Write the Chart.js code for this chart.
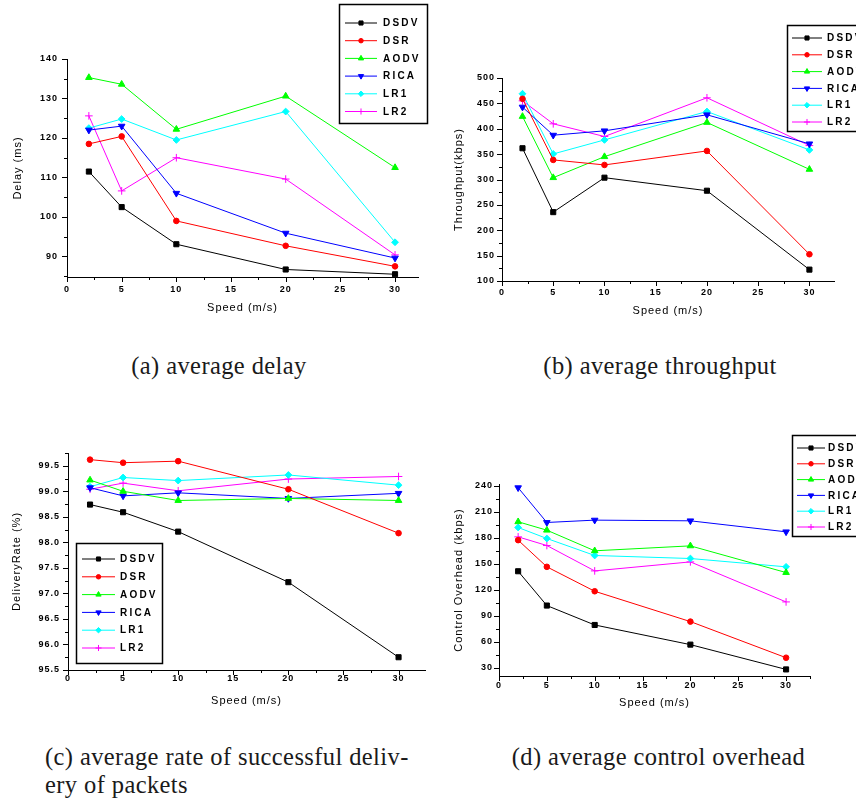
<!DOCTYPE html>
<html>
<head>
<meta charset="utf-8">
<script src="https://cdn.jsdelivr.net/npm/chart.js@4.4.0/dist/chart.umd.min.js"></script>
<style>
  body { margin: 0; background: #fff; }
  #page { position: relative; width: 856px; height: 800px; overflow: hidden; background: #fff; }
  canvas { position: absolute; }
  .cap { position: absolute; font-family: "Liberation Serif", serif; font-size: 24.5px; letter-spacing: 0.4px;
         color: #1a1a1a; white-space: nowrap; line-height: 28px; }
</style>
</head>
<body>
<div id="page">
  <canvas id="delayChart" width="430" height="335" style="left:0;top:0"></canvas>
  <canvas id="tputChart" width="426" height="335" style="left:430px;top:0"></canvas>
  <canvas id="rateChart" width="430" height="300" style="left:0;top:420px"></canvas>
  <canvas id="ohChart" width="426" height="300" style="left:430px;top:420px"></canvas>
  <div class="cap" style="left:0;width:438px;text-align:center;top:352px">(a) average delay</div>
  <div class="cap" style="left:430px;width:460px;text-align:center;top:352px">(b) average throughput</div>
  <div class="cap" style="left:45px;top:743px">(c) average rate of successful deliv-<br>ery of packets</div>
  <div class="cap" style="left:430px;width:457px;text-align:center;top:743px">(d) average control overhead</div>
</div>
<script>
const speeds = [2, 5, 10, 20, 30];
const protocols = ["DSDV", "DSR", "AODV", "RICA", "LR1", "LR2"];

// one row per protocol, columns follow speeds
const delayMs = [
  [111.5, 102.5, 93.1, 86.7, 85.5],
  [118.5, 120.4, 99.0, 92.7, 87.5],
  [135.3, 133.6, 122.2, 130.6, 112.5],
  [122.0, 123.0, 106.0, 95.9, 89.6],
  [122.5, 124.8, 119.5, 126.7, 93.6],
  [125.6, 106.6, 115.0, 109.6, 90.4]
];
const throughputKbps = [
  [361.6, 235.7, 303.6, 277.9, 122.4],
  [459.0, 338.6, 328.7, 356.3, 152.7],
  [424.2, 303.6, 345.0, 412.4, 320.0],
  [442.7, 387.3, 395.9, 427.5, 370.2],
  [469.0, 350.4, 378.0, 434.0, 358.3],
  [455.0, 409.7, 384.7, 461.0, 366.9]
];
const deliveryRate = [
  [98.74, 98.59, 98.21, 97.22, 95.75],
  [99.62, 99.56, 99.59, 99.04, 98.18],
  [99.22, 99.00, 98.82, 98.86, 98.82],
  [99.07, 98.91, 98.97, 98.86, 98.96],
  [99.09, 99.27, 99.21, 99.32, 99.12],
  [99.04, 99.16, 99.01, 99.24, 99.29]
];
const overheadKbps = [
  [141.3, 101.7, 79.3, 56.6, 28.0],
  [177.2, 146.4, 118.2, 83.2, 41.5],
  [198.4, 188.7, 164.9, 170.6, 139.8],
  [237.7, 197.6, 200.3, 199.5, 186.8],
  [191.8, 179.1, 159.5, 156.0, 146.4],
  [181.0, 171.0, 141.7, 152.1, 105.9]
];

const colors = ["#000000", "#ff0000", "#00ff00", "#0000ff", "#00ffff", "#ff00ff"];
const markers = ["rect", "circle", "triangle", "triangle", "rectRot", "cross"];
const markerRot = [0, 0, 0, 180, 0, 0];
const markerSize = [3.6, 2.8, 3.8, 3.8, 3.4, 3.8];

function isMajor(v, step) {
  return Math.abs(v / step - Math.round(v / step)) < 1e-6;
}

function minorTicks(step) {
  return (s) => {
    const half = step / 2;
    const t = [];
    for (let v = Math.ceil(s.min / half - 1e-9) * half; v <= s.max + 1e-9; v += half) {
      t.push({ value: +v.toFixed(4) });
    }
    s.ticks = t;
  };
}

const originLook = {
  id: "originLook",
  beforeDraw(chart) {
    chart.ctx.letterSpacing = "1px";
  },
  afterDraw(chart, args, o) {
    const ctx = chart.ctx;
    const a = chart.chartArea;
    const xs = chart.scales.x, ys = chart.scales.y;
    ctx.save();
    ctx.strokeStyle = "#000";
    ctx.lineWidth = 1;
    ctx.beginPath();
    xs.ticks.forEach(t => {
      const px = Math.round(xs.getPixelForValue(t.value)) + 0.5;
      ctx.moveTo(px, a.bottom);
      ctx.lineTo(px, a.bottom + (isMajor(t.value, o.xStep) ? 5 : 3));
    });
    ys.ticks.forEach(t => {
      const py = Math.round(ys.getPixelForValue(t.value)) + 0.5;
      ctx.moveTo(a.left, py);
      ctx.lineTo(a.left - (isMajor(t.value, o.yStep) ? 5 : 3), py);
    });
    ctx.stroke();

    // legend box
    const L = o.legend;
    ctx.fillStyle = "#fff";
    ctx.fillRect(L.x, L.y, L.w, L.h);
    ctx.lineWidth = 1.5;
    ctx.strokeRect(L.x + 0.5, L.y + 0.5, L.w, L.h);
    ctx.font = "bold 10px 'Liberation Sans', Arial, sans-serif";
    ctx.letterSpacing = "2.2px";
    ctx.textBaseline = "middle";
    chart.data.datasets.forEach((ds, i) => {
      const y = L.row0 + i * L.gap;
      ctx.strokeStyle = ds.borderColor;
      ctx.fillStyle = ds.borderColor;
      ctx.lineWidth = 1;
      ctx.beginPath();
      ctx.moveTo(L.x0, y);
      ctx.lineTo(L.x1, y);
      ctx.stroke();
      Chart.helpers.drawPoint(ctx, {
        pointStyle: ds.pointStyle, rotation: ds.pointRotation,
        radius: ds.pointRadius * 0.8, borderWidth: 1
      }, (L.x0 + L.x1) / 2, y);
      ctx.fillStyle = "#000";
      ctx.fillText(ds.label, L.tx, y + 0.5);
    });
    ctx.restore();
  }
};

function makeChart(id, values, ax, lay) {
  const datasets = protocols.map((p, i) => ({
    label: p,
    data: speeds.map((s, j) => ({ x: s, y: values[i][j] })),
    borderColor: colors[i],
    backgroundColor: colors[i],
    pointBackgroundColor: colors[i],
    pointBorderColor: colors[i],
    pointStyle: markers[i],
    pointRotation: markerRot[i],
    pointRadius: markerSize[i],
    pointBorderWidth: 1,
    borderWidth: 1,
    tension: 0
  }));
  const tickFont = { family: "'Liberation Sans', Arial, sans-serif", size: 9, weight: "bold" };
  const titleFont = { family: "'Liberation Sans', Arial, sans-serif", size: 11 };
  return new Chart(document.getElementById(id), {
    type: "line",
    data: { datasets },
    plugins: [originLook],
    options: {
      responsive: false,
      animation: false,
      devicePixelRatio: 1,
      layout: { padding: lay.pad },
      plugins: {
        legend: { display: false },
        tooltip: { enabled: false },
        originLook: { xStep: 5, yStep: ax.step, legend: lay.legend }
      },
      scales: {
        x: {
          type: "linear",
          min: 0,
          max: ax.xMax,
          afterBuildTicks: minorTicks(5),
          afterFit: (s) => { s.height = lay.xH; },
          grid: { display: false, drawTicks: false },
          border: { display: true, color: "#000", width: 1 },
          ticks: {
            autoSkip: false, maxRotation: 0, minRotation: 0, padding: lay.xPad,
            color: "#000", font: tickFont,
            callback: (v) => isMajor(v, 5) ? String(Math.round(v)) : ""
          },
          title: { display: true, text: "Speed (m/s)", color: "#000", font: titleFont, padding: 0 }
        },
        y: {
          type: "linear",
          min: ax.min,
          max: ax.max,
          afterBuildTicks: minorTicks(ax.step),
          afterFit: (s) => { s.width = lay.yW; },
          grid: { display: false, drawTicks: false },
          border: { display: true, color: "#000", width: 1 },
          ticks: {
            autoSkip: false, padding: lay.yPad, color: "#000", font: tickFont,
            callback: (v) => isMajor(v, ax.step) ? v.toFixed(ax.dec) : ""
          },
          title: { display: true, text: ax.title, color: "#000", font: titleFont, padding: 0 }
        }
      }
    }
  });
}

makeChart("delayChart", delayMs,
  { min: 84.8, max: 140, step: 10, dec: 0, xMax: 32.1, title: "Delay (ms)" },
  { pad: { left: 11, top: 59, right: 12, bottom: 20 }, yW: 56, xH: 38, xPad: 7, yPad: 9,
    legend: { x: 339, y: 4, w: 88, h: 119, row0: 23, gap: 17.7, x0: 345, x1: 377, tx: 383 } });

makeChart("tputChart", throughputKbps,
  { min: 100, max: 500, step: 50, dec: 0, xMax: 32.4, title: "Throughput(kbps)" },
  { pad: { left: 22, top: 78, right: 22, bottom: 17 }, yW: 50, xH: 37, xPad: 6, yPad: 7,
    legend: { x: 357, y: 25, w: 100, h: 106, row0: 38, gap: 16.8, x0: 362, x1: 392, tx: 397 } });

makeChart("rateChart", deliveryRate,
  { min: 95.5, max: 99.75, step: 0.5, dec: 1, xMax: 32.4, title: "DeliveryRate (%)" },
  { pad: { left: 10, top: 33, right: 5, bottom: 12 }, yW: 58, xH: 38, xPad: 3, yPad: 8,
    legend: { x: 76, y: 123, w: 86, h: 120, row0: 139, gap: 17.8, x0: 82, x1: 115, tx: 120 } });

makeChart("ohChart", overheadKbps,
  { min: 20.4, max: 242, step: 30, dec: 0, xMax: 32.5, title: "Control Overhead (kbps)" },
  { pad: { left: 22, top: 64, right: 46, bottom: 10 }, yW: 47, xH: 34, xPad: 4, yPad: 6,
    legend: { x: 362, y: 15, w: 100, h: 101, row0: 28, gap: 15.8, x0: 367, x1: 395, tx: 398 } });
</script>
</body>
</html>
